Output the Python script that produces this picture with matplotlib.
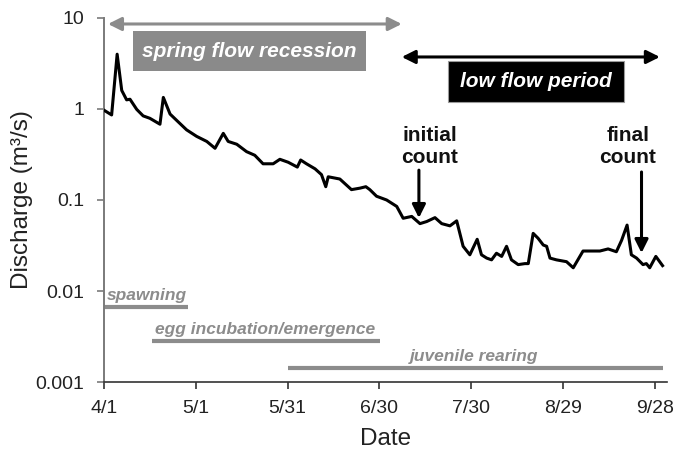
import matplotlib
matplotlib.use("Agg")
import matplotlib.pyplot as plt
from matplotlib.patches import Rectangle
from matplotlib.ticker import FixedLocator, FixedFormatter, NullLocator

plt.rcParams['font.family'] = ['Liberation Sans', 'DejaVu Sans']

# Daily discharge record, days counted from 1 April
day = [0, 2.5, 4.3, 5.8, 7.4, 8.5, 10.7, 12.8, 15, 18.3, 19.4, 21.6, 24.3, 27,
       30.3, 33.6, 36.3, 39, 40.6, 43.4, 46.6, 49.3, 52, 55.3, 57.5, 60.2, 63.2,
       64.3, 66.2, 69, 71.1, 72.5, 73.3, 77.1, 80.9, 83.7, 85.6, 86.9, 89.1,
       92.4, 95.7, 97.8, 100.6, 103.3, 105.5, 108.2, 110.4, 113.1, 115.3, 117.4,
       119.6, 122, 123.4, 125.1, 126.7, 128.3, 130, 131.6, 133.2, 135.4, 137.6,
       138.7, 140.3, 141.9, 143.6, 144.7, 145.8, 147.9, 151.2, 153.4, 156.6,
       162.1, 164.8, 167.5, 169.2, 171, 172.4, 174.1, 176.2, 177.3, 178.4,
       180.4, 182.6]
discharge = [0.97, 0.86, 4.0, 1.6, 1.26, 1.28, 0.99, 0.84, 0.79, 0.68, 1.34, 0.88,
             0.72, 0.59, 0.50, 0.44, 0.37, 0.54, 0.44, 0.41, 0.34, 0.31, 0.25,
             0.25, 0.28, 0.26, 0.23, 0.275, 0.25, 0.22, 0.19, 0.14, 0.18, 0.17,
             0.13, 0.135, 0.14, 0.13, 0.11, 0.10, 0.085, 0.063, 0.066, 0.055,
             0.058, 0.064, 0.055, 0.052, 0.059, 0.031, 0.025, 0.037, 0.025,
             0.023, 0.022, 0.026, 0.024, 0.031, 0.022, 0.0195, 0.020, 0.020,
             0.043, 0.038, 0.032, 0.031, 0.023, 0.022, 0.021, 0.018, 0.0275,
             0.0275, 0.029, 0.027, 0.036, 0.053, 0.025, 0.023, 0.0195, 0.020,
             0.018, 0.024, 0.019]

# Life-stage periods (start day, end day, bar level)
stages = ["spawning", "egg incubation/emergence", "juvenile rearing"]
stage_start = [0, 15.6, 60.2]
stage_end = [27.5, 90.2, 182.7]
stage_level = [0.0067, 0.00284, 0.00141]

x_ticks = [0, 30, 60, 90, 120, 150, 180]
x_labels = ["4/1", "5/1", "5/31", "6/30", "7/30", "8/29", "9/28"]
y_ticks = [0.001, 0.01, 0.1, 1, 10]
y_labels = ["0.001", "0.01", "0.1", "1", "10"]

GRAY = '#8c8c8c'

fig = plt.figure(figsize=(6.77, 4.53), dpi=100)
ax = fig.add_axes([0.1536, 0.1567, 0.8314, 0.8036])

ax.plot(day, discharge, color='black', lw=2.2, solid_joinstyle='round', zorder=3)

ax.set_yscale('log')
ax.set_xlim(0, 184)
ax.set_ylim(0.001, 10)
ax.xaxis.set_major_locator(FixedLocator(x_ticks))
ax.xaxis.set_major_formatter(FixedFormatter(x_labels))
ax.yaxis.set_major_locator(FixedLocator(y_ticks))
ax.yaxis.set_major_formatter(FixedFormatter(y_labels))
ax.yaxis.set_minor_locator(NullLocator())
ax.xaxis.set_minor_locator(NullLocator())

for s in ('top', 'right'):
    ax.spines[s].set_visible(False)
ax.spines['left'].set_color('#7a7a7a')
ax.spines['left'].set_linewidth(1.4)
ax.spines['bottom'].set_color('#333333')
ax.spines['bottom'].set_linewidth(1.2)
ax.tick_params(axis='y', colors='#7a7a7a', labelcolor='#222222', length=5,
               width=1.2, labelsize=14, pad=9)
ax.tick_params(axis='x', colors='#333333', labelcolor='#222222', length=5,
               width=1.2, labelsize=14, pad=8)

ax.set_ylabel("Discharge (m³/s)", fontsize=17.5, color='#222222')
ax.yaxis.set_label_coords(-0.127, 0.5)
ax.set_xlabel("Date", fontsize=17.5, color='#222222')
ax.xaxis.set_label_coords(0.501, -0.127)

# Life-stage bars with labels
for i, (name, x0, x1, lev) in enumerate(zip(stages, stage_start, stage_end, stage_level)):
    ax.plot([x0, x1], [lev, lev], color=GRAY, lw=3.0, solid_capstyle='butt', zorder=2)
    if i < 2:
        ax.annotate(name, xy=(x0 + 1.0, lev), xytext=(0, 5), textcoords='offset points',
                    ha='left', va='baseline', fontsize=12.5, fontweight='bold',
                    fontstyle='italic', color=GRAY)
    else:
        ax.annotate(name, xy=((x0 + x1) / 2, lev), xytext=(-1, 5), textcoords='offset points',
                    ha='center', va='baseline', fontsize=12.5, fontweight='bold',
                    fontstyle='italic', color=GRAY)

# Period arrows and boxed labels (axes fraction)
T = ax.transAxes
ax.annotate('', xy=(0.0071, 0.9835), xytext=(0.529, 0.9835), xycoords=T, textcoords=T,
            arrowprops=dict(arrowstyle='<|-|>', color=GRAY, lw=2.2,
                            mutation_scale=20, shrinkA=0, shrinkB=0), annotation_clip=False)
ax.add_patch(Rectangle((0.0515, 0.8544), 0.4139, 0.1099, transform=T,
                       facecolor='#8a8a8a', edgecolor='none', zorder=4, clip_on=False))
ax.text(0.2585, 0.909, "spring flow recession", transform=T, ha='center', va='center',
        fontsize=15, fontweight='bold', fontstyle='italic', color='white', zorder=5)

ax.annotate('', xy=(0.529, 0.8929), xytext=(0.9876, 0.8929), xycoords=T, textcoords=T,
            arrowprops=dict(arrowstyle='<|-|>', color='black', lw=2.2,
                            mutation_scale=20, shrinkA=0, shrinkB=0), annotation_clip=False)
ax.add_patch(Rectangle((0.611, 0.7692), 0.3126, 0.1127, transform=T,
                       facecolor='black', edgecolor='#9a9a9a', lw=0.8, zorder=4, clip_on=False))
ax.text(0.767, 0.8255, "low flow period", transform=T, ha='center', va='center',
        fontsize=15, fontweight='bold', fontstyle='italic', color='white', zorder=5)

# Count markers
ax.text(0.579, 0.648, "initial\ncount", transform=T, ha='center', va='center',
        fontsize=15, fontweight='bold', color='#111111', linespacing=1.2)
ax.annotate('', xy=(0.5595, 0.4505), xytext=(0.5595, 0.582), xycoords=T, textcoords=T,
            arrowprops=dict(arrowstyle='-|>', color='black', lw=2.2,
                            mutation_scale=20, shrinkA=0, shrinkB=0))
ax.text(0.9307, 0.648, "final\ncount", transform=T, ha='center', va='center',
        fontsize=15, fontweight='bold', color='#111111', linespacing=1.2)
ax.annotate('', xy=(0.955, 0.3544), xytext=(0.955, 0.577), xycoords=T, textcoords=T,
            arrowprops=dict(arrowstyle='-|>', color='black', lw=2.2,
                            mutation_scale=20, shrinkA=0, shrinkB=0))

fig.savefig("out.png", dpi=100)
